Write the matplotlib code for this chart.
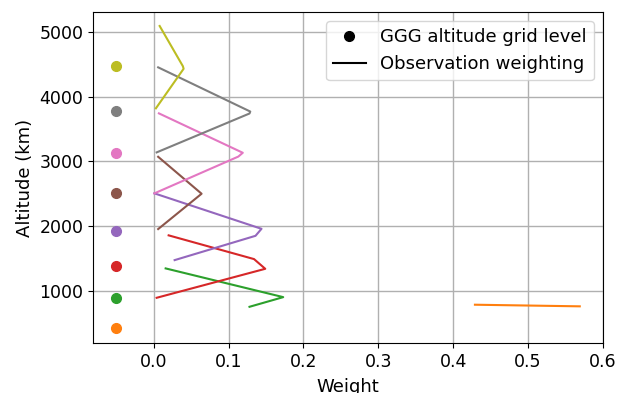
import numpy as np
import matplotlib
matplotlib.use('Agg')
import matplotlib.pyplot as plt
from matplotlib.lines import Line2D

# GGG altitude grid levels (km), one per color C1..C8
grid_alt = [430, 890, 1385, 1925, 2510, 3130, 3780, 4470]
grid_colors = ['C1', 'C2', 'C3', 'C4', 'C5', 'C6', 'C7', 'C8']
dot_weight = -0.05

# observation weighting curves (weight, altitude)
w_orange = [0.429, 0.569]
a_orange = [790, 765]
w_green = [0.016, 0.173, 0.128]
a_green = [1350, 907, 758]
w_red = [0.020, 0.134, 0.149, 0.004]
a_red = [1860, 1494, 1344, 897]
w_purple = [0.028, 0.136, 0.144, 0.001]
a_purple = [1478, 1853, 1961, 2508]
w_brown = [0.006, 0.064, 0.006]
a_brown = [1957, 2502, 3072]
w_pink = [0.001, 0.113, 0.119, 0.007]
a_pink = [2508, 3075, 3134, 3742]
w_gray = [0.004, 0.128, 0.129, 0.006]
a_gray = [3140, 3740, 3770, 4452]
w_olive = [0.003, 0.040, 0.039, 0.008]
a_olive = [3820, 4430, 4470, 5090]

curves = [(w_orange, a_orange), (w_green, a_green), (w_red, a_red),
          (w_purple, a_purple), (w_brown, a_brown), (w_pink, a_pink),
          (w_gray, a_gray), (w_olive, a_olive)]

plt.rcParams['font.size'] = 13
plt.rcParams['xtick.labelsize'] = 12.5
plt.rcParams['ytick.labelsize'] = 12.5

fig, ax = plt.subplots(figsize=(6.18, 3.93), dpi=100)
fig.subplots_adjust(left=0.1505, right=0.9757, top=0.9695, bottom=0.127)

for (w, a), alt, c in zip(curves, grid_alt, grid_colors):
    ax.plot(dot_weight, alt, 'o', color=c, markersize=7)
    ax.plot(w, a, '-', color=c, linewidth=1.5)

ax.set_xlim(-0.081, 0.6)
ax.set_ylim(198, 5306)
ax.set_xticks(np.arange(0, 0.61, 0.1))
ax.set_yticks([1000, 2000, 3000, 4000, 5000])
ax.grid(True, color='#b0b0b0', linewidth=1)
ax.set_axisbelow(True)
ax.set_xlabel('Weight', labelpad=5)
ax.set_ylabel('Altitude (km)')

handles = [Line2D([], [], marker='o', color='k', linestyle='none', markersize=7),
           Line2D([], [], color='k', linewidth=1.5)]
ax.legend(handles, ['GGG altitude grid level', 'Observation weighting'],
          loc='upper right', handlelength=1.8)

fig.savefig('out.png', dpi=100)
